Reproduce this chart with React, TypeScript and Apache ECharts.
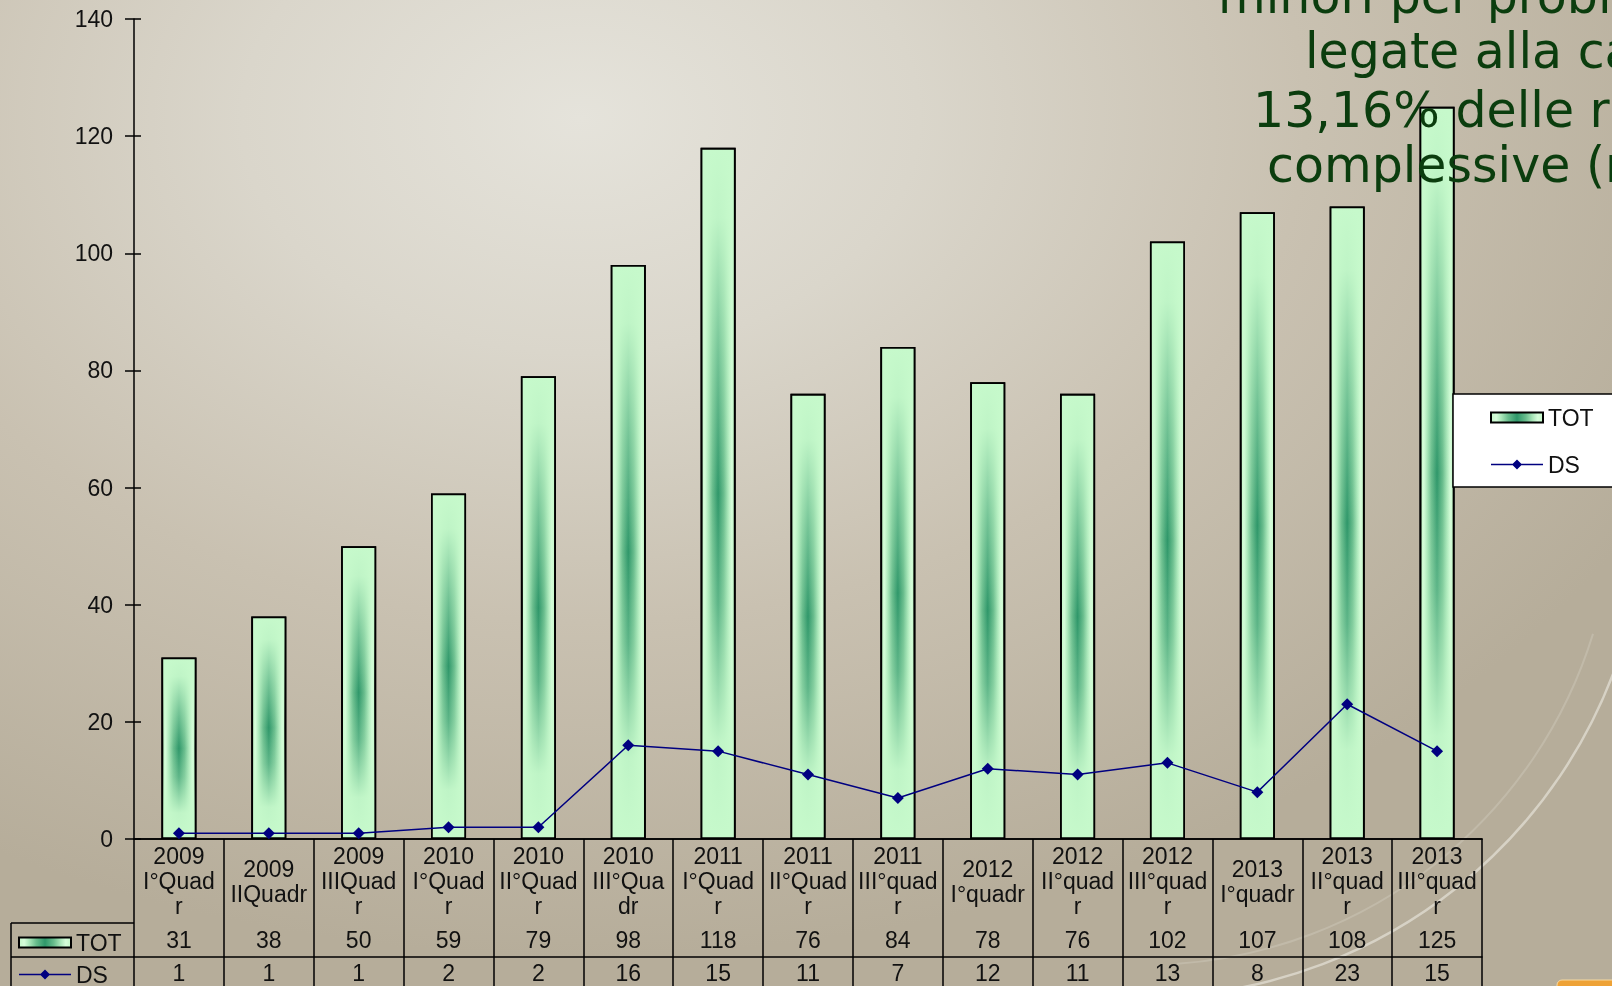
import React, { useEffect, useRef } from 'react';
import * as echarts from 'echarts';

const categories = [
  '2009\nI°Quad\nr', '2009\nIIQuadr', '2009\nIIIQuad\nr', '2010\nI°Quad\nr', '2010\nII°Quad\nr',
  '2010\nIII°Qua\ndr', '2011\nI°Quad\nr', '2011\nII°Quad\nr', '2011\nIII°quad\nr', '2012\nI°quadr',
  '2012\nII°quad\nr', '2012\nIII°quad\nr', '2013\nI°quadr', '2013\nII°quad\nr', '2013\nIII°quad\nr',
];
const totValues = [31, 38, 50, 59, 79, 98, 118, 76, 84, 78, 76, 102, 107, 108, 125];
const dsValues = [1, 1, 1, 2, 2, 16, 15, 11, 7, 12, 11, 13, 8, 23, 15];
const yMin = 0;
const yMax = 140;
const yInterval = 20;
const seriesNames = ['TOT', 'DS'];
const titleLines = ['minori per problematiche', 'legate alla cannabis:', '13,16% delle richieste', 'complessive (rispetto'];

export default function App() {
  const ref = useRef<HTMLDivElement>(null);
  useEffect(() => {
    document.body.style.margin = '0';
    const chart = echarts.init(ref.current as HTMLDivElement, null, { renderer: 'svg', width: 1612, height: 986 });
    const font = 'Liberation Sans';
    const titleFont = 'DejaVu Sans';
    const textColor = '#111';
    const black = '#000';
    const navy = '#000080';
    const barFill = new echarts.graphic.LinearGradient(0, 0, 1, 0, [
      { offset: 0, color: '#c4f7c9' },
      { offset: 0.1, color: '#d6fdda' },
      { offset: 0.2, color: '#a9e6b9' },
      { offset: 0.33, color: '#69bd8d' },
      { offset: 0.5, color: '#2f976a' },
      { offset: 0.67, color: '#69bd8d' },
      { offset: 0.8, color: '#a9e6b9' },
      { offset: 0.9, color: '#d6fdda' },
      { offset: 1, color: '#c4f7c9' },
    ]);
    const shadeFill = new echarts.graphic.LinearGradient(0, 0, 0, 1, [
      { offset: 0, color: 'rgba(198,249,203,1)' },
      { offset: 0.1, color: 'rgba(198,249,203,0.95)' },
      { offset: 0.3, color: 'rgba(198,249,203,0.45)' },
      { offset: 0.5, color: 'rgba(198,249,203,0)' },
      { offset: 0.66, color: 'rgba(198,249,203,0.3)' },
      { offset: 0.86, color: 'rgba(198,249,203,0.95)' },
      { offset: 1, color: 'rgba(198,249,203,1)' },
    ]);
    const labelStyle = { fontSize: 23, fontFamily: font, color: textColor };
    const axisLine = { show: true, lineStyle: { color: black, width: 1.5 } };
    const dsIcon = 'path://M0,4.3L21.7,4.3L26,0L30.3,4.3L52,4.3L52,5.7L30.3,5.7L26,10L21.7,5.7L0,5.7Z';

    const titleBaselines = [13, 68, 127, 182];
    const titleStarts = [1218, 1305, 1253, 1267];

    const legendData = [{ name: seriesNames[0], icon: 'rect' }, { name: seriesNames[1], icon: dsIcon }];

    const option: any = {
      animation: false,
      backgroundColor: 'transparent',
      textStyle: { fontFamily: font },
      grid: { left: 134, right: 130, top: 19, bottom: 147, containLabel: false, outerBoundsMode: 'none' },
      legend: [
        {
          data: legendData,
          orient: 'vertical', left: 1453, top: 394,
          padding: [12, 90, 11, 37], itemGap: 24, itemWidth: 52, itemHeight: 10,
          backgroundColor: '#fff', borderColor: black, borderWidth: 1.5,
          textStyle: labelStyle, selectedMode: false,
        },
        {
          data: legendData,
          orient: 'vertical', left: 18, top: 931,
          padding: 0, itemGap: 9, itemWidth: 52, itemHeight: 10,
          textStyle: labelStyle, selectedMode: false,
        },
      ],
      xAxis: [
        {
          type: 'category', data: categories, position: 'bottom',
          axisLine, axisTick: { show: true, interval: 0, length: 160, lineStyle: { color: black, width: 1.5 } },
          axisLabel: { ...labelStyle, interval: 0, margin: 42, verticalAlign: 'middle', lineHeight: 25, hideOverlap: false },
          splitLine: { show: false }, z: 5,
        },
        {
          type: 'category', data: categories, position: 'bottom', offset: 84,
          axisLine, axisTick: { show: false },
          axisLabel: { ...labelStyle, interval: 0, margin: 17, verticalAlign: 'middle', formatter: (_v: string, i: number) => String(totValues[i]) },
          splitLine: { show: false },
        },
        {
          type: 'category', data: categories, position: 'bottom', offset: 118,
          axisLine, axisTick: { show: false },
          axisLabel: { ...labelStyle, interval: 0, margin: 16, verticalAlign: 'middle', formatter: (_v: string, i: number) => String(dsValues[i]) },
          splitLine: { show: false },
        },
      ],
      yAxis: [
        {
          type: 'value', min: yMin, max: yMax, interval: yInterval, position: 'left',
          axisLine, axisTick: { show: true, length: 9, lineStyle: { color: black, width: 1.5 } },
          axisLabel: { ...labelStyle, margin: 21 }, splitLine: { show: false },
        },
        {
          type: 'value', min: yMin, max: yMax, interval: yInterval, position: 'left', offset: 0,
          axisLine: { show: false }, axisTick: { show: true, inside: true, length: 7, lineStyle: { color: black, width: 1.5 } },
          axisLabel: { show: false }, splitLine: { show: false },
        },
      ],
      series: [
        {
          name: seriesNames[0], type: 'bar', data: totValues, barWidth: '39%', barGap: '-100%',
          itemStyle: { color: barFill, borderColor: black, borderWidth: 1.8 }, z: 2,
        },
        {
          name: 'TOT-shade', type: 'bar', data: totValues, barWidth: '39%', barGap: '-100%', silent: true,
          itemStyle: { color: shadeFill, borderColor: black, borderWidth: 1.8 }, z: 3,
        },
        {
          name: seriesNames[1], type: 'line', data: dsValues, symbol: 'diamond', symbolSize: 12,
          lineStyle: { color: navy, width: 1.5 }, itemStyle: { color: navy }, z: 6,
        },
      ],
      graphic: [
        { type: 'arc', silent: true, z: 0, shape: { cx: 1144, cy: 495, r: 502, startAngle: 0.3, endAngle: 1.5, clockwise: true }, style: { stroke: 'rgba(255,255,250,0.45)', lineWidth: 2.5, fill: null } },
        { type: 'arc', silent: true, z: 0, shape: { cx: 1144, cy: 495, r: 470, startAngle: 0.3, endAngle: 1.5, clockwise: true }, style: { stroke: 'rgba(255,255,250,0.16)', lineWidth: 2, fill: null } },
        { type: 'line', silent: true, z: 10, shape: { x1: 11, y1: 923, x2: 134, y2: 923 }, style: { stroke: black, lineWidth: 1.5 } },
        { type: 'line', silent: true, z: 10, shape: { x1: 11, y1: 957, x2: 134, y2: 957 }, style: { stroke: black, lineWidth: 1.5 } },
        { type: 'line', silent: true, z: 10, shape: { x1: 11, y1: 923, x2: 11, y2: 990 }, style: { stroke: black, lineWidth: 1.5 } },
        { type: 'rect', silent: true, z: 10, shape: { x: 1557, y: 980, width: 80, height: 20, r: 5 }, style: { fill: '#eea236', stroke: '#f7d9a0', lineWidth: 1 } },
        ...titleLines.map((t, i) => ({
          type: 'text', silent: true, z: 100, x: titleStarts[i], y: titleBaselines[i] - 17,
          style: { text: t, fontSize: 49, fontFamily: titleFont, fill: '#0b3d0e', align: 'left', verticalAlign: 'middle' },
        })),
      ],
    };
    chart.setOption(option);
    return () => chart.dispose();
  }, []);
  return (
    <div
      ref={ref}
      style={{
        position: 'fixed', left: 0, top: 0, width: 1612, height: 986, overflow: 'hidden',
        background: 'radial-gradient(ellipse 75% 85% at 36% 12%, #e5e3db 0%, #dad6cb 28%, #c9c1b1 60%, #b6ad9a 100%)',
      }}
    />
  );
}
